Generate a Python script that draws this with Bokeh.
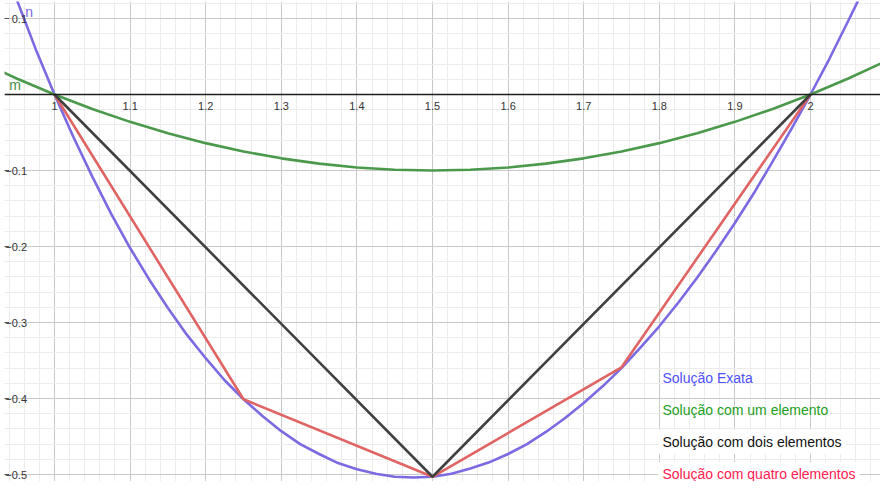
from bokeh.plotting import figure
from bokeh.models import Range1d, Grid, SingleIntervalTicker, Span
from bokeh.core.properties import value
from bokeh.embed import file_html
from bokeh.resources import INLINE

# ---- data ----
x_exact = [0.95, 0.975, 1.0, 1.025, 1.05, 1.075, 1.1, 1.125, 1.15, 1.175, 1.2, 1.225,
           1.25, 1.275, 1.3, 1.325, 1.35, 1.375, 1.4, 1.425, 1.45, 1.475, 1.5, 1.525,
           1.55, 1.575, 1.6, 1.625, 1.65, 1.675, 1.7, 1.725, 1.75, 1.775, 1.8, 1.825,
           1.85, 1.875, 1.9, 1.925, 1.95, 1.975, 2.0, 2.025, 2.05, 2.075]
y_exact = [0.125, 0.060, 0.0, -0.056, -0.108, -0.157, -0.202, -0.243, -0.281, -0.316,
           -0.347, -0.376, -0.401, -0.423, -0.443, -0.460, -0.473, -0.485, -0.493, -0.499,
           -0.503, -0.504, -0.503, -0.499, -0.492, -0.484, -0.473, -0.460, -0.444, -0.426,
           -0.406, -0.384, -0.360, -0.333, -0.305, -0.274, -0.241, -0.206, -0.169, -0.130,
           -0.088, -0.045, 0.0, 0.047, 0.097, 0.148]

x_one = [0.9, 0.95, 1.0, 1.05, 1.1, 1.15, 1.2, 1.25, 1.3, 1.35, 1.4, 1.45, 1.5,
         1.55, 1.6, 1.65, 1.7, 1.75, 1.8, 1.85, 1.9, 1.95, 2.0, 2.05, 2.1]
y_one = [0.044, 0.021, 0.0, -0.019, -0.036, -0.051, -0.064, -0.075, -0.084, -0.091,
         -0.096, -0.099, -0.100, -0.099, -0.096, -0.091, -0.084, -0.075, -0.064, -0.051,
         -0.036, -0.019, 0.0, 0.021, 0.044]

x_two = [1.0, 1.5, 2.0]
y_two = [0.0, -0.503, 0.0]

x_four = [1.0, 1.25, 1.5, 1.75, 2.0]
y_four = [0.0, -0.401, -0.503, -0.359, 0.0]

x_ticks = [1.0, 1.1, 1.2, 1.3, 1.4, 1.5, 1.6, 1.7, 1.8, 1.9, 2.0]
x_tick_labels = ["1", "1.1", "1.2", "1.3", "1.4", "1.5", "1.6", "1.7", "1.8", "1.9", "2"]
y_ticks = [0.1, -0.1, -0.2, -0.3, -0.4, -0.5]
y_tick_labels = ["0.1", "\u22120.1", "\u22120.2", "\u22120.3", "\u22120.4", "\u22120.5"]

legend_texts = ["Solução Exata", "Solução com um elemento",
                "Solução com dois elementos", "Solução com quatro elementos"]

# ---- view ----
PX_PER_X = 756.0
PX_PER_Y = 760.0
X0 = 1 - 50 / PX_PER_X
X1 = 1 + 826 / PX_PER_X
Y1 = 93 / PX_PER_Y
Y0 = -387 / PX_PER_Y

FONT = value("Liberation Sans")

p = figure(width=880, height=481, output_backend="svg", toolbar_location=None,
           x_range=Range1d(X0, X1), y_range=Range1d(Y0, Y1),
           x_axis_location=None, y_axis_location=None,
           min_border_left=4, min_border_top=1, min_border_right=0, min_border_bottom=0)
p.outline_line_color = None
p.background_fill_color = "white"
p.border_fill_color = "white"

p.center = [r for r in p.center if not isinstance(r, Grid)]
for dim in (0, 1):
    g = Grid(dimension=dim, ticker=SingleIntervalTicker(interval=0.1, num_minor_ticks=5),
             grid_line_color="#c9c9c9", grid_line_width=1,
             minor_grid_line_color="#ececec", minor_grid_line_width=1)
    p.add_layout(g, "center")

p.add_layout(Span(location=0, dimension="width", line_color="#1e1e1e", line_width=1.3))

# curves
p.line(x_exact, y_exact, line_color="#7b6ae2", line_width=2.6)
p.line(x_one, y_one, line_color="#4b994b", line_width=2.6)
p.line(x_four, y_four, line_color="#e06464", line_width=2.6)
p.line(x_two, y_two, line_color="#404040", line_width=2.6)

# axis labels
p.text(x=x_ticks, y=[0] * len(x_ticks), text=x_tick_labels, y_offset=11,
       text_align="center", text_baseline="middle", text_font=FONT,
       text_font_size="11px", text_color="#333333")
p.text(x=[X0] * len(y_ticks), y=y_ticks, text=y_tick_labels, x_offset=22.5,
       text_align="right", text_baseline="middle", text_font=FONT,
       text_font_size="11px", text_color="#333333")
p.scatter(x=[X0] * len(y_ticks), y=y_ticks, marker="dash", size=9,
          line_color="#555555", line_width=1)

# curve names
p.text(x=[0.9665], y=[0.1088], text=["n"], text_align="center", text_baseline="middle",
       text_font=FONT, text_font_size="14px", text_color="#7b6ae2")
p.text(x=[0.948], y=[0.0128], text=["m"], text_align="center", text_baseline="middle",
       text_font=FONT, text_font_size="14px", text_color="#3f8f3f")

# legend-like texts
LX = 1 + (670 - 62) / PX_PER_X
ly = [-(385 - 102) / PX_PER_Y, -(417.7 - 102) / PX_PER_Y,
      -(449.3 - 102) / PX_PER_Y, -(481.7 - 102) / PX_PER_Y]
colors = ["#5050ff", "#22a022", "#111111", "#ff2050"]
for i in range(4):
    kw = {}
    if i >= 2:
        kw = dict(background_fill_color="white", padding=4, x_offset=-4)
    p.text(x=[LX], y=[ly[i]], text=[legend_texts[i]], text_align="left",
           text_baseline="middle", text_font=FONT, text_font_size="14px",
           text_color=colors[i], **kw)

open("out.html", "w").write(file_html(p, INLINE))
